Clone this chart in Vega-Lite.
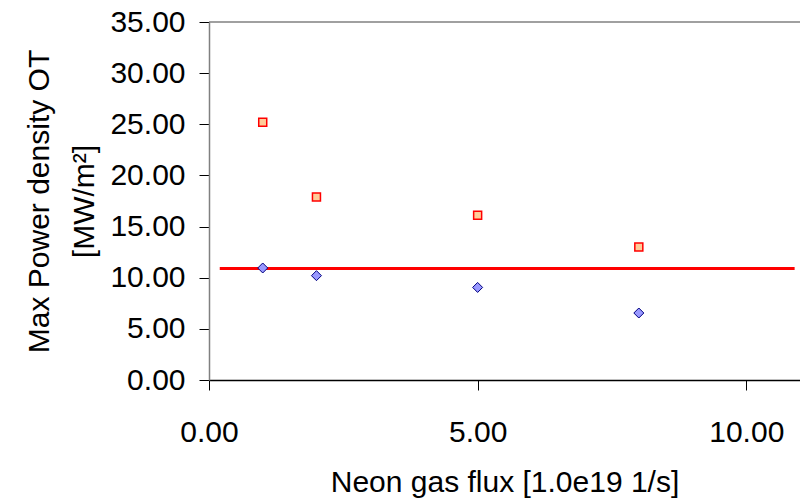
{
  "$schema": "https://vega.github.io/schema/vega-lite/v6.json",
  "width": 591,
  "height": 358,
  "autosize": "none",
  "padding": {"left": 209, "top": 22, "right": 0, "bottom": 121},
  "background": "white",
  "config": {
    "view": {"stroke": null},
    "font": "Liberation Sans",
    "axis": {
      "labelColor": "#000000",
      "titleColor": "#000000",
      "titleFontWeight": "normal",
      "labelFont": "Liberation Sans",
      "titleFont": "Liberation Sans",
      "grid": false,
      "tickColor": "#000000",
      "tickSize": 10,
      "labelOverlap": false,
      "labelFlush": false
    }
  },
  "datasets": {
    "squares": [
      {"flux": 1, "power": 25.2},
      {"flux": 2, "power": 17.9},
      {"flux": 5, "power": 16.1},
      {"flux": 8, "power": 13.0}
    ],
    "diamonds": [
      {"flux": 1, "power": 10.95},
      {"flux": 2, "power": 10.2},
      {"flux": 5, "power": 9.05},
      {"flux": 8, "power": 6.55}
    ],
    "limit": [
      {"flux": 0.2, "flux2": 10.9, "power": 10.9}
    ],
    "top": [
      {"power": 35}
    ]
  },
  "layer": [
    {
      "data": {"name": "top"},
      "mark": {"type": "rule", "color": "#808080", "strokeWidth": 1.5},
      "encoding": {
        "y": {"field": "power", "type": "quantitative"}
      }
    },
    {
      "data": {"name": "limit"},
      "mark": {"type": "rule", "color": "#FF0000", "strokeWidth": 3},
      "encoding": {
        "x": {"field": "flux", "type": "quantitative"},
        "x2": {"field": "flux2"},
        "y": {"field": "power", "type": "quantitative"}
      }
    },
    {
      "data": {"name": "squares"},
      "mark": {"type": "point", "shape": "square", "size": 64, "filled": true, "fill": "#FFCC99", "stroke": "#FF0000", "strokeWidth": 1.5, "opacity": 1},
      "encoding": {
        "x": {"field": "flux", "type": "quantitative"},
        "y": {"field": "power", "type": "quantitative"}
      }
    },
    {
      "data": {"name": "diamonds"},
      "mark": {"type": "point", "shape": "diamond", "size": 100, "filled": true, "fill": "#9999FF", "stroke": "#000080", "strokeWidth": 1, "opacity": 1},
      "encoding": {
        "x": {
          "field": "flux",
          "type": "quantitative",
          "scale": {"domain": [0, 11], "nice": false, "zero": false},
          "axis": {
            "values": [0, 5, 10],
            "format": ".2f",
            "labelFontSize": 30,
            "labelPadding": 27,
            "domainColor": "#000000",
            "domainWidth": 1.5,
            "title": "Neon gas flux [1.0e19 1/s]",
            "titleFontSize": 30,
            "titlePadding": 20
          }
        },
        "y": {
          "field": "power",
          "type": "quantitative",
          "scale": {"domain": [0, 35], "nice": false},
          "axis": {
            "values": [0, 5, 10, 15, 20, 25, 30, 35],
            "format": ".2f",
            "labelFontSize": 30,
            "labelPadding": 14,
            "domainColor": "#808080",
            "domainWidth": 1.5,
            "title": ["Max Power density OT", "[MW/m²]"],
            "titleFontSize": 30,
            "titlePadding": 10,
            "titleLineHeight": 45
          }
        }
      }
    }
  ]
}
